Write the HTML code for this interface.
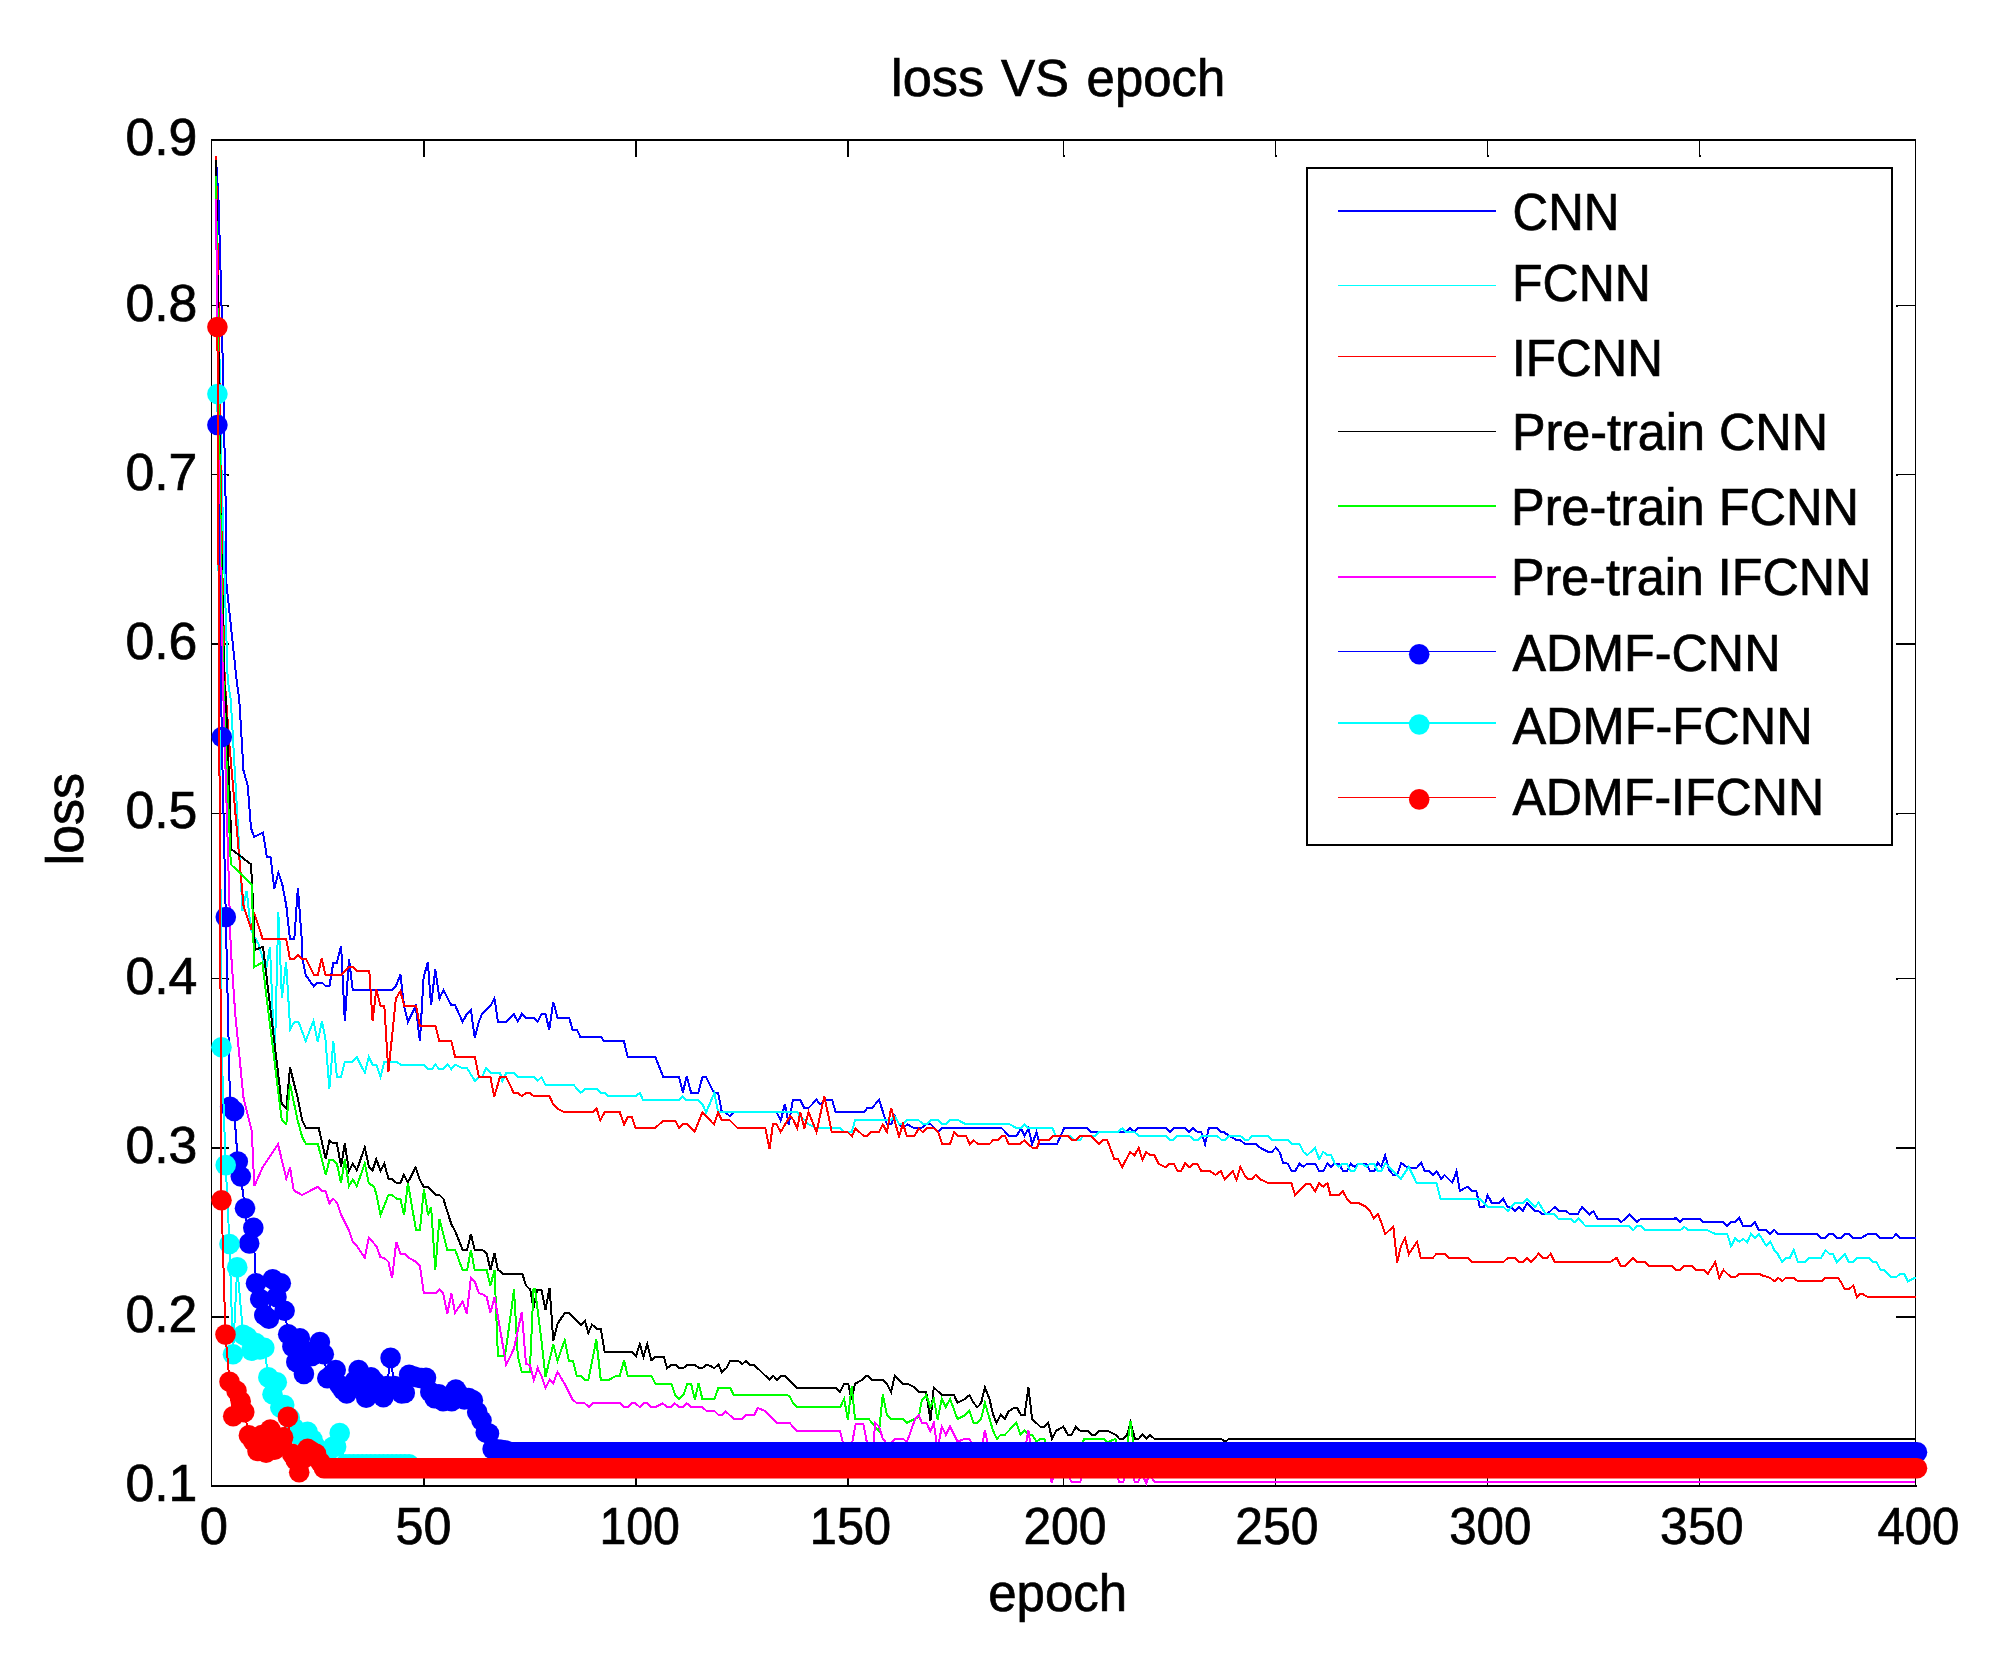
<!DOCTYPE html><html><head><meta charset="utf-8"><title>loss VS epoch</title><style>html,body{margin:0;padding:0;background:#fff}body{width:1999px;height:1676px;overflow:hidden}</style></head><body><svg width="1999" height="1676" viewBox="0 0 1999 1676" style="display:block">
<rect width="1999" height="1676" fill="#fff"/>
<g shape-rendering="crispEdges" fill="#000">
<rect x="211" y="139" width="1705" height="2"/>
<rect x="211" y="1485" width="1706" height="2"/>
<rect x="211" y="139" width="1" height="1348"/>
<rect x="1915" y="139" width="1" height="1348"/>
<rect x="423" y="141" width="2" height="16"/>
<rect x="423" y="1469" width="2" height="16"/>
<rect x="635" y="141" width="2" height="16"/>
<rect x="635" y="1469" width="2" height="16"/>
<rect x="847" y="141" width="2" height="16"/>
<rect x="847" y="1469" width="2" height="16"/>
<rect x="1063" y="141" width="1" height="16"/>
<rect x="1063" y="1469" width="1" height="16"/>
<rect x="1063" y="155" width="2" height="2"/>
<rect x="1063" y="1469" width="2" height="2"/>
<rect x="1275" y="141" width="1" height="16"/>
<rect x="1275" y="1469" width="1" height="16"/>
<rect x="1275" y="155" width="2" height="2"/>
<rect x="1275" y="1469" width="2" height="2"/>
<rect x="1487" y="141" width="1" height="16"/>
<rect x="1487" y="1469" width="1" height="16"/>
<rect x="1487" y="155" width="2" height="2"/>
<rect x="1487" y="1469" width="2" height="2"/>
<rect x="1699" y="141" width="1" height="16"/>
<rect x="1699" y="1469" width="1" height="16"/>
<rect x="1699" y="155" width="2" height="2"/>
<rect x="1699" y="1469" width="2" height="2"/>
<rect x="212" y="305" width="17" height="1"/>
<rect x="1896" y="305" width="19" height="1"/>
<rect x="227" y="305" width="2" height="2"/>
<rect x="1896" y="305" width="2" height="2"/>
<rect x="212" y="474" width="17" height="1"/>
<rect x="1896" y="474" width="19" height="1"/>
<rect x="227" y="474" width="2" height="2"/>
<rect x="1896" y="474" width="2" height="2"/>
<rect x="212" y="643" width="17" height="2"/>
<rect x="1896" y="643" width="19" height="2"/>
<rect x="212" y="813" width="17" height="1"/>
<rect x="1896" y="813" width="19" height="1"/>
<rect x="227" y="813" width="2" height="2"/>
<rect x="1896" y="813" width="2" height="2"/>
<rect x="212" y="978" width="17" height="1"/>
<rect x="1896" y="978" width="19" height="1"/>
<rect x="227" y="978" width="2" height="2"/>
<rect x="1896" y="978" width="2" height="2"/>
<rect x="212" y="1147" width="17" height="2"/>
<rect x="1896" y="1147" width="19" height="2"/>
<rect x="212" y="1316" width="17" height="2"/>
<rect x="1896" y="1316" width="19" height="2"/>
</g>
<g shape-rendering="crispEdges">
<polyline points="216.0,158.0 218.5,200.0 221.4,300.0 225.6,500.0 226.5,584.0 236.6,680.0 239.3,700.0 243.5,770.5 247.7,785.5 251.0,828.3 254.3,837.0 263.0,832.5 266.8,856.5 270.5,856.5 274.3,889.1 278.3,872.6 282.2,883.9 286.3,905.6 290.0,939.1 294.3,939.1 297.9,887.6 301.8,940.0 302.1,956.5 305.8,975.3 313.6,986.2 317.8,982.5 321.9,982.5 325.8,986.2 329.4,986.2 333.3,962.8 336.9,962.8 341.1,946.0 344.8,1021.0 349.0,959.1 352.8,990.3 392.1,990.3 395.9,986.2 400.4,974.5 404.1,1006.0 407.9,1021.8 415.7,1006.0 419.9,1041.3 423.6,977.5 427.8,962.2 431.1,1005.3 435.3,969.3 439.4,998.5 443.4,990.3 451.4,1005.3 455.1,1005.3 462.6,1021.8 467.1,1013.5 470.9,1009.8 474.7,1037.6 478.9,1021.8 482.2,1013.5 490.4,1006.0 494.5,998.5 497.9,1021.8 498.3,1021.6 506.2,1021.6 513.7,1014.0 517.8,1021.6 521.8,1014.0 526.0,1017.8 534.3,1017.8 537.7,1021.6 541.5,1014.0 545.5,1014.0 549.3,1029.8 553.3,1002.0 557.5,1017.8 569.2,1017.8 572.5,1029.8 577.0,1029.8 580.5,1037.3 601.1,1037.3 604.5,1041.4 624.0,1041.4 627.8,1057.3 655.5,1057.3 663.3,1077.1 679.1,1077.1 682.9,1092.8 686.6,1076.3 691.1,1092.8 698.3,1092.8 702.4,1077.1 706.1,1077.1 713.9,1092.8 718.1,1092.8 721.9,1112.4 725.6,1112.4 729.8,1116.1 733.9,1112.4 776.7,1112.4 780.7,1120.6 784.9,1104.1 788.7,1124.6 792.8,1100.3 800.3,1100.3 804.3,1108.1 808.5,1108.1 816.5,1099.8 820.2,1104.3 824.3,1100.3 832.2,1100.3 835.8,1112.3 864.0,1112.3 867.0,1108.4 871.6,1108.4 879.1,1099.8 886.9,1124.3 891.1,1124.3 894.8,1115.6 899.3,1124.3 903.1,1128.3 907.3,1124.3 912.1,1127.3 915.1,1128.3 921.1,1128.3 926.3,1124.3 930.8,1124.3 934.6,1128.3 938.3,1132.1 942.1,1128.3 1001.8,1128.3 1009.6,1136.3 1016.4,1136.3 1020.9,1128.3 1024.6,1135.8 1028.4,1128.3 1032.1,1144.1 1036.6,1132.1 1039.6,1144.1 1056.9,1144.1 1064.1,1128.3 1080.0,1128.3 1087.3,1128.3 1091.0,1132.1 1126.3,1132.1 1130.0,1128.3 1133.8,1132.1 1137.5,1128.3 1166.1,1128.3 1169.8,1132.1 1173.6,1128.3 1185.6,1128.3 1189.3,1132.1 1193.1,1128.3 1197.6,1132.1 1201.3,1132.1 1205.1,1144.1 1208.8,1128.3 1217.1,1128.3 1220.8,1132.1 1223.8,1132.1 1229.1,1135.8 1236.6,1140.0 1240.3,1140.0 1244.8,1144.1 1256.1,1144.1 1260.3,1147.8 1268.1,1151.9 1271.9,1151.9 1275.6,1147.8 1279.8,1152.3 1283.1,1162.8 1287.6,1163.6 1291.8,1171.1 1295.1,1171.1 1299.6,1163.6 1303.4,1166.9 1307.1,1163.6 1315.4,1163.6 1319.1,1171.1 1323.3,1171.1 1327.4,1163.6 1330.8,1166.9 1334.9,1163.6 1338.6,1163.6 1343.2,1171.1 1346.9,1171.1 1350.7,1163.6 1354.4,1166.9 1358.2,1163.6 1366.4,1163.6 1370.0,1171.1 1374.3,1171.0 1377.7,1163.0 1381.3,1166.8 1385.2,1155.5 1389.3,1170.5 1393.3,1175.0 1397.2,1175.0 1401.3,1163.0 1407.3,1167.5 1417.0,1167.5 1421.2,1163.0 1424.8,1171.0 1429.0,1171.0 1432.8,1175.0 1436.5,1171.0 1441.0,1178.8 1444.5,1175.0 1452.3,1182.8 1456.5,1171.3 1459.8,1190.8 1467.8,1186.7 1471.8,1190.8 1476.3,1190.8 1479.8,1207.3 1483.8,1207.3 1487.6,1195.3 1491.8,1202.8 1499.6,1202.8 1503.3,1199.1 1507.8,1207.3 1511.6,1207.3 1515.0,1211.1 1519.1,1207.3 1522.8,1211.1 1527.0,1202.8 1534.8,1211.1 1538.6,1211.1 1542.4,1214.4 1546.9,1214.4 1554.8,1206.9 1558.9,1211.1 1566.4,1211.1 1570.1,1214.4 1577.6,1214.4 1582.1,1206.9 1589.6,1214.4 1593.4,1211.1 1597.6,1218.6 1617.4,1218.6 1621.1,1222.3 1629.4,1214.8 1636.9,1222.3 1641.0,1218.6 1660.0,1218.6 1676.3,1218.5 1680.0,1221.9 1683.8,1218.5 1699.5,1218.5 1703.7,1222.3 1723.5,1222.3 1727.3,1226.1 1731.0,1222.3 1735.2,1222.3 1739.3,1217.8 1743.1,1226.1 1750.9,1226.1 1754.8,1221.9 1758.8,1230.3 1766.3,1230.3 1770.1,1234.0 1774.3,1229.8 1778.3,1234.0 1817.3,1234.0 1821.1,1238.1 1824.8,1238.1 1828.9,1234.0 1832.8,1234.0 1836.9,1238.1 1840.9,1238.1 1844.8,1234.0 1848.9,1234.0 1852.9,1238.1 1860.9,1238.1 1867.6,1234.3 1876.6,1234.3 1880.4,1238.1 1892.4,1238.1 1896.1,1234.3 1900.3,1238.1 1915.6,1238.1" fill="none" stroke="#0000ff" stroke-width="2" stroke-linejoin="miter"/>
<polyline points="216.0,160.0 219.0,330.0 221.7,480.0 227.7,680.0 230.8,700.0 239.3,850.1 242.5,911.0 246.7,890.7 250.9,930.1 258.6,944.4 262.2,956.3 265.8,970.7 270.0,946.8 274.7,1062.5 278.3,911.6 281.9,998.1 286.1,962.3 290.2,1029.1 294.4,1022.0 298.6,1022.0 305.7,1041.0 313.5,1020.8 317.7,1041.6 321.9,1020.8 325.4,1038.7 329.4,1088.6 333.3,1041.3 336.9,1076.9 341.1,1076.9 344.8,1061.6 352.8,1061.6 356.8,1057.1 364.8,1072.8 368.8,1057.1 372.6,1064.6 376.3,1064.6 380.5,1076.9 384.3,1061.6 396.6,1061.6 400.4,1064.6 423.9,1064.6 428.1,1069.1 431.9,1069.1 435.3,1064.6 439.4,1069.1 443.4,1069.1 447.6,1064.6 451.4,1069.1 455.1,1064.6 462.6,1068.3 467.1,1068.3 475.0,1081.1 478.9,1076.9 482.2,1076.9 485.9,1068.3 490.4,1072.8 500.0,1072.8 502.3,1080.8 506.2,1073.3 514.0,1073.3 518.1,1077.1 534.3,1077.1 537.7,1080.8 541.5,1077.1 545.5,1084.6 573.3,1084.6 580.8,1092.8 584.9,1088.8 596.6,1088.8 601.1,1092.8 604.8,1092.8 608.6,1096.3 635.6,1096.3 639.8,1092.8 643.1,1100.3 678.4,1100.3 682.6,1096.3 686.6,1100.3 698.6,1100.3 702.4,1104.1 706.1,1112.4 714.4,1092.8 718.1,1112.4 790.0,1112.4 797.3,1112.3 800.3,1116.3 804.8,1120.1 808.5,1124.3 816.8,1128.3 840.0,1128.3 843.8,1132.1 851.7,1132.1 855.0,1120.4 891.1,1120.4 894.8,1116.3 899.3,1124.3 903.1,1124.3 906.8,1120.4 918.8,1120.4 923.3,1124.3 926.3,1124.3 930.8,1120.4 938.3,1120.4 942.8,1124.3 945.8,1124.3 949.6,1120.4 958.6,1120.4 966.1,1124.3 1009.6,1124.3 1017.1,1128.3 1020.9,1128.3 1024.6,1124.3 1028.4,1128.3 1052.4,1128.3 1056.2,1136.3 1070.4,1136.3 1074.2,1140.3 1080.0,1140.3 1082.8,1135.8 1094.8,1135.8 1099.3,1132.1 1118.0,1132.1 1122.2,1128.3 1126.3,1132.1 1134.5,1132.1 1138.6,1135.8 1166.1,1135.8 1169.8,1140.0 1173.3,1140.0 1177.3,1135.8 1189.3,1135.8 1193.8,1140.0 1197.6,1140.0 1202.1,1135.8 1217.1,1135.8 1221.6,1140.0 1224.6,1140.0 1229.1,1135.8 1240.3,1135.8 1244.8,1140.0 1248.6,1140.0 1252.4,1135.8 1268.1,1135.8 1272.3,1140.0 1287.6,1140.0 1291.8,1144.1 1299.6,1144.1 1303.4,1151.9 1307.1,1155.3 1315.1,1147.8 1319.1,1159.1 1323.3,1151.9 1327.4,1155.3 1331.1,1155.3 1334.9,1163.6 1338.6,1166.9 1342.4,1163.6 1346.9,1163.6 1350.7,1171.1 1354.4,1171.1 1358.2,1163.6 1361.9,1163.6 1366.4,1166.9 1370.0,1163.6 1374.3,1163.8 1377.7,1171.0 1381.3,1171.0 1385.5,1163.0 1400.8,1178.8 1408.8,1166.8 1416.7,1183.3 1436.5,1183.3 1440.7,1199.1 1479.8,1199.1 1487.6,1206.9 1503.3,1206.9 1507.8,1211.1 1515.0,1202.8 1522.8,1202.8 1527.0,1199.1 1534.8,1206.9 1538.6,1202.8 1546.1,1214.4 1554.8,1214.4 1558.1,1218.6 1570.9,1218.6 1574.3,1222.3 1578.4,1218.6 1585.9,1226.4 1629.4,1226.4 1633.2,1230.3 1636.9,1226.4 1641.4,1226.4 1645.2,1230.3 1660.0,1230.3 1680.0,1230.3 1684.2,1226.8 1688.3,1230.3 1707.8,1230.3 1715.3,1234.0 1727.3,1234.0 1731.0,1246.3 1735.2,1238.1 1739.3,1241.8 1743.1,1238.8 1747.3,1242.3 1750.9,1234.0 1754.8,1238.1 1758.8,1234.0 1766.3,1245.6 1770.5,1241.8 1774.3,1250.1 1777.6,1253.8 1782.1,1262.1 1785.8,1257.9 1789.9,1257.9 1793.8,1250.1 1797.8,1262.1 1805.3,1262.1 1809.4,1257.9 1821.1,1257.9 1825.6,1250.1 1829.3,1253.8 1832.8,1253.8 1836.9,1262.1 1844.8,1253.8 1848.9,1262.1 1852.9,1262.1 1856.8,1257.9 1869.1,1257.9 1872.9,1262.1 1876.6,1262.1 1880.4,1269.9 1884.1,1269.9 1891.6,1277.4 1896.1,1277.4 1899.9,1273.8 1904.1,1273.8 1907.8,1281.3 1915.6,1277.4" fill="none" stroke="#00ffff" stroke-width="2" stroke-linejoin="miter"/>
<polyline points="216.0,156.0 218.5,300.0 221.1,512.0 224.7,680.0 229.3,743.5 243.5,905.6 251.0,928.1 254.8,914.6 262.7,939.1 286.3,939.1 286.3,940.0 290.0,959.1 293.8,959.1 297.9,955.0 302.1,959.1 306.1,959.1 314.1,975.3 317.8,975.3 321.6,958.3 325.5,975.0 341.1,975.0 349.0,967.0 352.8,967.0 356.8,971.1 369.3,971.1 372.6,1021.0 376.3,989.5 380.5,1005.6 384.3,1005.6 388.4,1072.1 395.9,998.5 400.4,991.0 404.1,1005.6 416.1,1005.6 419.9,1026.0 435.6,1026.0 439.4,1041.3 451.4,1041.3 455.1,1057.1 475.0,1057.1 478.9,1076.9 490.4,1076.9 494.2,1096.8 500.0,1076.9 506.2,1077.1 513.7,1092.8 517.8,1092.8 521.8,1096.3 526.0,1092.8 529.8,1092.8 533.8,1096.3 549.6,1096.3 553.0,1104.1 557.5,1108.6 561.3,1110.8 565.0,1112.4 592.8,1112.4 596.6,1108.6 600.3,1120.3 604.5,1112.4 619.8,1112.4 624.0,1124.4 627.8,1116.9 631.8,1116.9 635.6,1128.1 655.1,1128.1 663.3,1120.6 675.4,1120.6 679.1,1128.1 682.9,1124.4 687.4,1124.4 694.6,1131.9 702.4,1112.4 713.9,1124.4 718.1,1112.4 721.9,1120.3 729.8,1120.3 737.6,1128.1 765.4,1128.1 769.5,1149.1 772.9,1124.4 776.7,1124.4 780.7,1131.9 790.0,1116.1 793.5,1120.1 797.3,1128.3 800.3,1111.8 804.3,1128.3 808.5,1111.8 816.5,1132.1 824.3,1096.1 831.8,1132.1 847.5,1132.1 852.0,1136.3 855.5,1128.3 864.0,1136.3 867.0,1136.3 870.8,1132.1 879.1,1132.1 882.8,1124.3 886.9,1132.1 891.1,1107.8 899.0,1136.3 903.1,1123.8 906.8,1136.3 914.3,1136.3 918.8,1128.3 922.6,1132.1 926.3,1128.3 933.8,1128.3 938.3,1132.1 942.1,1144.1 950.0,1144.1 954.1,1132.1 957.8,1136.3 966.1,1136.3 969.9,1144.1 973.6,1140.3 977.8,1144.1 989.4,1144.1 993.1,1140.3 997.6,1140.3 1001.8,1136.3 1005.1,1136.3 1008.9,1144.1 1020.1,1144.1 1024.3,1140.3 1032.9,1148.3 1036.9,1148.3 1039.6,1140.3 1048.6,1140.3 1052.4,1136.3 1068.2,1136.3 1071.9,1140.3 1075.7,1140.3 1080.0,1135.8 1091.0,1135.8 1098.8,1144.1 1103.0,1140.0 1107.2,1140.0 1114.3,1159.1 1118.0,1159.1 1122.2,1167.3 1130.0,1151.9 1134.5,1155.3 1138.6,1147.8 1142.5,1159.8 1146.2,1151.9 1150.3,1155.3 1154.5,1155.3 1158.5,1163.6 1165.3,1167.3 1169.8,1163.6 1173.6,1163.6 1177.8,1171.1 1181.1,1171.1 1185.3,1162.8 1189.3,1167.3 1193.8,1163.6 1197.3,1163.6 1201.3,1171.1 1209.6,1171.1 1215.6,1174.8 1220.8,1171.1 1224.6,1179.3 1232.8,1171.1 1236.6,1180.1 1240.3,1166.9 1244.8,1175.6 1247.8,1179.3 1251.6,1179.3 1255.7,1174.8 1260.3,1179.3 1268.1,1183.1 1291.4,1183.1 1295.1,1195.1 1306.4,1183.8 1310.1,1183.8 1315.1,1191.3 1319.1,1183.1 1323.3,1186.8 1327.4,1183.1 1330.4,1195.1 1338.6,1195.1 1342.9,1191.3 1346.9,1198.8 1350.7,1202.9 1358.2,1202.9 1364.9,1206.3 1370.0,1210.8 1373.8,1218.6 1378.0,1214.1 1381.3,1222.3 1385.2,1234.3 1393.3,1226.4 1397.2,1262.8 1400.8,1246.3 1405.0,1238.1 1408.8,1254.3 1417.0,1241.8 1420.8,1257.9 1432.8,1257.9 1436.5,1253.8 1444.8,1253.8 1448.8,1257.9 1468.1,1257.9 1471.8,1262.1 1503.3,1262.1 1507.8,1257.9 1515.0,1257.9 1519.1,1262.1 1522.8,1262.1 1527.0,1257.9 1531.1,1262.1 1538.6,1253.8 1542.8,1257.9 1546.9,1257.9 1550.6,1253.8 1554.8,1262.1 1609.9,1262.1 1616.6,1257.9 1620.8,1265.8 1624.9,1265.8 1632.9,1257.9 1636.9,1262.1 1645.2,1262.1 1648.9,1265.8 1660.0,1265.8 1672.2,1265.8 1676.3,1269.9 1680.0,1269.9 1684.2,1265.8 1692.0,1265.8 1695.8,1269.9 1704.0,1269.9 1707.8,1273.8 1715.3,1262.1 1719.3,1277.8 1723.5,1269.9 1727.3,1273.8 1731.0,1277.1 1735.2,1277.1 1739.3,1273.8 1759.3,1273.8 1762.6,1275.6 1770.1,1277.8 1774.3,1281.3 1778.3,1277.8 1782.1,1281.3 1785.8,1277.8 1794.1,1277.8 1797.8,1281.3 1821.8,1281.3 1825.6,1277.8 1837.6,1277.8 1840.9,1281.6 1844.8,1289.4 1848.9,1289.4 1853.4,1285.3 1856.8,1297.3 1860.1,1293.6 1863.1,1294.3 1868.4,1297.3 1915.6,1297.3" fill="none" stroke="#ff0000" stroke-width="2" stroke-linejoin="miter"/>
<polyline points="216.0,160.0 218.5,350.0 220.5,512.0 222.9,611.0 224.1,680.0 225.8,700.0 229.6,793.1 231.5,849.3 251.0,864.3 252.2,886.1 254.8,946.1 254.8,949.8 263.0,946.8 281.8,1104.3 286.3,1108.1 290.0,1067.6 297.6,1097.6 302.1,1120.1 305.8,1127.6 318.6,1127.6 325.8,1159.1 329.4,1140.4 333.3,1143.4 336.9,1143.4 341.1,1166.6 344.8,1143.4 349.0,1171.1 352.8,1163.6 356.8,1170.4 364.8,1147.1 368.8,1166.6 372.6,1170.4 376.3,1159.1 380.5,1171.1 384.3,1163.6 388.4,1178.6 392.1,1179.4 396.6,1183.1 400.4,1183.1 403.8,1174.9 407.9,1182.4 415.7,1167.4 419.9,1180.1 423.9,1186.9 428.1,1186.9 435.6,1195.0 439.4,1195.0 443.4,1198.8 447.3,1211.5 451.4,1224.3 455.1,1231.0 462.6,1249.8 467.1,1249.8 470.9,1234.0 474.7,1249.8 482.2,1249.8 486.7,1253.5 490.4,1270.0 494.5,1253.5 497.9,1270.0 498.3,1269.8 502.8,1273.8 522.3,1273.8 526.0,1285.5 530.2,1289.6 533.5,1308.1 537.3,1289.6 541.5,1289.6 545.5,1309.6 549.6,1287.8 553.3,1341.1 557.5,1323.8 565.0,1312.6 568.8,1312.6 580.8,1324.9 584.9,1320.8 588.3,1332.8 592.1,1324.6 596.9,1328.8 600.8,1328.8 604.8,1352.3 632.3,1352.3 636.0,1356.1 639.8,1344.1 643.4,1356.8 647.3,1344.1 651.3,1360.3 655.1,1356.8 663.8,1356.8 667.1,1368.1 671.6,1364.8 675.4,1364.8 679.4,1368.1 683.3,1368.1 687.4,1364.8 694.9,1364.8 698.9,1368.1 702.4,1368.1 706.4,1364.8 709.9,1365.8 714.4,1368.1 718.4,1364.3 721.9,1372.3 726.4,1368.1 730.1,1360.9 738.4,1360.9 742.1,1364.3 745.9,1360.9 750.1,1364.8 754.1,1364.8 769.5,1379.8 773.4,1375.9 777.0,1379.8 781.2,1375.9 784.9,1375.9 790.0,1380.8 796.8,1387.9 836.3,1387.9 840.0,1392.1 844.2,1383.8 848.3,1383.8 851.7,1400.3 855.0,1383.8 861.8,1380.0 867.0,1375.5 871.9,1379.7 883.3,1379.7 887.3,1384.6 891.1,1392.1 894.8,1375.5 903.1,1383.8 907.6,1383.8 913.6,1386.8 918.8,1392.1 926.3,1392.1 930.4,1420.6 933.8,1387.6 942.1,1395.1 954.1,1395.1 957.5,1402.9 965.4,1398.8 969.4,1395.1 973.6,1402.9 977.4,1407.1 981.1,1403.3 984.9,1387.3 989.4,1398.8 993.1,1414.6 996.4,1422.8 1000.6,1414.9 1004.8,1418.8 1008.4,1411.6 1014.1,1407.8 1017.1,1407.8 1020.9,1414.9 1024.6,1414.9 1028.4,1387.3 1032.1,1418.8 1040.4,1426.9 1044.1,1426.9 1048.3,1422.8 1051.9,1438.6 1056.2,1430.8 1063.4,1426.6 1067.8,1434.7 1071.7,1434.7 1075.8,1426.8 1080.0,1430.5 1087.8,1430.5 1091.5,1434.7 1095.3,1434.7 1099.3,1430.5 1107.3,1430.5 1111.8,1432.8 1115.5,1434.7 1119.3,1438.8 1123.0,1438.8 1127.1,1434.7 1130.5,1423.0 1135.0,1438.8 1138.8,1438.8 1142.5,1434.7 1146.3,1438.8 1150.0,1434.7 1154.3,1438.8 1221.3,1438.8 1225.1,1442.2 1228.8,1438.8 1360.0,1438.8 1915.0,1438.8" fill="none" stroke="#000000" stroke-width="2" stroke-linejoin="miter"/>
<polyline points="216.0,176.0 218.0,350.0 219.9,480.0 223.5,680.0 224.0,700.0 230.8,864.3 251.8,884.6 253.7,949.1 254.3,967.0 262.3,962.5 266.0,992.5 281.8,1120.1 286.3,1123.9 290.0,1084.1 297.6,1120.1 302.1,1136.6 305.8,1143.8 317.8,1143.8 325.8,1174.9 329.4,1159.9 333.3,1159.9 336.9,1163.6 341.1,1183.1 344.8,1159.1 349.0,1186.1 352.8,1179.4 356.8,1186.1 364.8,1163.6 368.8,1183.1 374.1,1186.8 376.3,1194.3 380.5,1215.3 388.4,1195.0 392.1,1195.0 396.6,1198.8 400.4,1198.8 404.1,1215.3 407.9,1183.0 416.1,1230.3 419.9,1230.3 423.9,1189.0 428.1,1215.3 431.1,1207.0 435.3,1270.0 439.4,1219.0 447.3,1249.8 455.1,1249.8 462.6,1270.0 467.1,1270.0 470.9,1249.8 474.7,1270.0 486.7,1270.0 490.4,1285.8 494.5,1270.0 497.9,1356.3 505.0,1356.1 512.7,1300.0 514.0,1289.3 517.8,1356.4 521.8,1372.3 529.8,1372.3 533.5,1289.3 535.0,1289.3 541.5,1341.1 545.5,1377.1 553.3,1344.1 557.5,1360.6 564.7,1340.3 568.8,1360.6 573.0,1360.6 576.7,1375.9 580.8,1375.9 584.9,1380.1 588.3,1380.1 596.3,1339.6 600.8,1380.1 608.6,1380.1 616.1,1375.9 619.8,1375.9 624.0,1360.3 627.8,1375.9 651.3,1375.9 655.4,1383.9 671.3,1383.9 675.4,1395.1 679.1,1399.3 683.3,1395.1 687.4,1383.9 691.1,1383.9 694.9,1399.3 698.6,1383.1 702.4,1399.3 714.4,1399.3 718.4,1387.9 730.4,1387.9 733.9,1395.4 787.9,1395.4 789.3,1395.8 792.8,1402.6 796.8,1407.4 840.0,1407.4 844.2,1398.8 847.8,1419.8 851.7,1386.1 855.0,1418.8 868.5,1418.8 879.1,1431.1 882.8,1394.3 886.9,1414.9 890.8,1419.1 903.1,1419.1 906.8,1422.8 918.8,1416.8 921.8,1400.3 926.3,1395.1 930.4,1407.1 933.8,1398.8 937.6,1419.8 941.8,1398.8 945.8,1407.1 950.0,1398.8 957.5,1419.1 965.4,1414.9 969.4,1410.8 973.6,1422.8 977.4,1422.8 981.1,1419.1 984.9,1402.9 993.1,1430.8 996.9,1438.9 1000.6,1434.8 1004.8,1434.8 1016.4,1422.8 1020.4,1434.8 1024.6,1430.8 1028.4,1434.8 1032.1,1434.8 1036.6,1441.6 1040.4,1438.6 1044.1,1438.6 1046.4,1444.6 1060.0,1444.0 1082.5,1444.0 1084.0,1438.8 1103.5,1438.8 1107.3,1442.2 1111.8,1440.3 1115.5,1438.8 1116.3,1444.0 1127.5,1444.0 1130.5,1421.5 1133.5,1444.0 1150.0,1450.0 1200.0,1455.0 1915.0,1455.0" fill="none" stroke="#00ff00" stroke-width="2" stroke-linejoin="miter"/>
<polyline points="216.0,199.0 217.5,350.0 218.7,480.0 222.9,680.0 230.8,949.1 235.3,1015.0 243.5,1097.6 251.8,1131.4 254.3,1186.1 263.0,1166.6 278.0,1144.1 286.3,1178.6 290.0,1167.4 293.8,1190.5 302.1,1195.0 317.8,1186.8 321.6,1190.5 325.3,1190.5 329.4,1203.3 333.3,1198.8 336.9,1202.5 341.1,1214.5 349.0,1230.3 352.8,1241.5 356.8,1246.0 364.8,1258.0 368.8,1237.8 376.3,1246.0 380.5,1257.3 384.3,1258.0 388.4,1261.8 392.1,1278.3 396.3,1241.8 400.4,1253.5 404.1,1253.5 407.9,1257.3 416.1,1261.8 419.9,1265.5 423.9,1293.3 435.6,1293.3 439.4,1289.6 443.1,1293.3 447.3,1313.6 451.4,1293.3 455.1,1312.8 462.6,1301.6 466.8,1313.6 470.9,1277.6 474.7,1281.3 478.9,1293.3 482.2,1294.1 486.7,1297.1 490.4,1312.8 494.5,1297.1 494.5,1296.8 506.2,1364.8 514.0,1348.6 521.8,1311.8 526.0,1364.3 529.8,1364.8 533.8,1380.1 537.7,1368.1 541.5,1375.9 545.5,1387.6 549.6,1379.8 553.3,1383.1 557.5,1371.8 564.7,1383.9 572.5,1399.3 577.0,1403.4 584.9,1403.4 588.8,1407.1 592.4,1403.4 620.3,1403.4 624.3,1407.1 627.8,1407.1 631.8,1403.4 635.6,1403.4 639.8,1407.1 643.4,1403.4 647.3,1403.4 651.3,1407.1 655.1,1407.1 662.6,1403.4 667.1,1407.1 670.8,1407.1 674.6,1403.4 679.4,1407.1 683.3,1407.1 686.9,1403.4 691.1,1407.1 702.4,1407.1 706.4,1410.9 714.4,1410.9 718.4,1414.9 721.9,1414.9 725.6,1411.3 733.9,1419.1 742.1,1419.1 745.9,1415.4 754.1,1415.4 757.9,1407.9 764.7,1410.9 777.0,1423.3 790.0,1423.3 796.8,1431.1 840.0,1431.1 846.0,1455.1 849.8,1455.1 855.8,1423.6 863.3,1423.6 869.3,1455.1 872.3,1455.1 875.3,1422.8 879.1,1426.6 882.8,1438.6 888.8,1446.1 894.8,1438.6 903.1,1438.6 906.8,1442.3 915.1,1419.1 918.8,1414.9 921.8,1422.8 926.3,1422.8 930.4,1431.1 933.8,1422.8 937.6,1449.1 941.8,1426.6 945.8,1434.8 950.0,1426.6 957.5,1441.6 965.4,1438.6 969.4,1438.6 975.1,1452.1 981.1,1452.1 984.9,1430.3 989.4,1452.1 1024.6,1452.1 1028.4,1430.3 1032.1,1455.1 1048.6,1470.1 1051.9,1482.9 1054.7,1470.1 1065.2,1470.1 1071.9,1482.4 1080.0,1482.4 1082.5,1474.1 1116.3,1474.1 1119.3,1482.3 1123.0,1482.3 1126.0,1474.1 1132.0,1474.1 1135.0,1482.3 1138.0,1482.3 1141.8,1474.1 1146.3,1483.1 1149.3,1474.1 1154.6,1482.3 1360.0,1482.3 1915.0,1482.3" fill="none" stroke="#ff00ff" stroke-width="2" stroke-linejoin="miter"/>
</g>
<g shape-rendering="crispEdges"><polyline points="217.4,425.0 221.8,737.0 225.8,917.0 230.1,1106.7 234.2,1110.9 237.8,1161.6 240.8,1176.5 245.0,1208.2 249.2,1243.4 253.3,1227.8 256.0,1283.2 260.2,1299.0 264.3,1315.1 268.9,1318.8 272.7,1279.3 276.5,1297.0 280.8,1283.2 284.6,1310.8 288.2,1334.2 292.4,1346.6 296.3,1361.9 299.9,1338.2 303.9,1373.9 308.0,1352.0 312.0,1356.0 316.0,1350.0 319.9,1342.1 323.8,1354.3 327.3,1378.2 331.5,1375.0 335.7,1370.0 339.5,1385.0 343.0,1390.0 346.7,1393.5 350.7,1388.0 354.7,1381.0 358.6,1370.0 362.4,1388.0 366.2,1397.7 371.0,1377.2 375.0,1382.0 379.3,1390.0 383.4,1397.2 387.0,1386.0 390.6,1357.9 394.5,1386.0 398.0,1388.0 401.6,1393.4 404.8,1392.9 409.1,1374.7 413.2,1376.4 417.5,1377.5 421.8,1378.1 426.0,1377.7 430.3,1391.9 434.6,1398.3 438.9,1394.2 443.1,1401.3 447.4,1399.0 451.7,1401.3 455.8,1389.6 460.1,1395.4 464.4,1399.5 468.7,1398.0 472.9,1400.2 477.2,1412.1 481.5,1420.5 485.7,1432.4 489.0,1433.6 492.6,1449.1 496.9,1449.4 501.2,1449.7 505.5,1450.6 511.3,1452.3 1917.0,1452.3" fill="none" stroke="#0000ff" stroke-width="2" stroke-linejoin="miter"/></g><g fill="#0000ff"><circle cx="217.4" cy="425.0" r="10.3"/><circle cx="221.8" cy="737.0" r="10.3"/><circle cx="225.8" cy="917.0" r="10.3"/><circle cx="230.1" cy="1106.7" r="10.3"/><circle cx="234.2" cy="1110.9" r="10.3"/><circle cx="237.8" cy="1161.6" r="10.3"/><circle cx="240.8" cy="1176.5" r="10.3"/><circle cx="245.0" cy="1208.2" r="10.3"/><circle cx="249.2" cy="1243.4" r="10.3"/><circle cx="253.3" cy="1227.8" r="10.3"/><circle cx="256.0" cy="1283.2" r="10.3"/><circle cx="260.2" cy="1299.0" r="10.3"/><circle cx="264.3" cy="1315.1" r="10.3"/><circle cx="268.9" cy="1318.8" r="10.3"/><circle cx="272.7" cy="1279.3" r="10.3"/><circle cx="276.5" cy="1297.0" r="10.3"/><circle cx="280.8" cy="1283.2" r="10.3"/><circle cx="284.6" cy="1310.8" r="10.3"/><circle cx="288.2" cy="1334.2" r="10.3"/><circle cx="292.4" cy="1346.6" r="10.3"/><circle cx="296.3" cy="1361.9" r="10.3"/><circle cx="299.9" cy="1338.2" r="10.3"/><circle cx="303.9" cy="1373.9" r="10.3"/><circle cx="308.0" cy="1352.0" r="10.3"/><circle cx="312.0" cy="1356.0" r="10.3"/><circle cx="316.0" cy="1350.0" r="10.3"/><circle cx="319.9" cy="1342.1" r="10.3"/><circle cx="323.8" cy="1354.3" r="10.3"/><circle cx="327.3" cy="1378.2" r="10.3"/><circle cx="331.5" cy="1375.0" r="10.3"/><circle cx="335.7" cy="1370.0" r="10.3"/><circle cx="339.5" cy="1385.0" r="10.3"/><circle cx="343.0" cy="1390.0" r="10.3"/><circle cx="346.7" cy="1393.5" r="10.3"/><circle cx="350.7" cy="1388.0" r="10.3"/><circle cx="354.7" cy="1381.0" r="10.3"/><circle cx="358.6" cy="1370.0" r="10.3"/><circle cx="362.4" cy="1388.0" r="10.3"/><circle cx="366.2" cy="1397.7" r="10.3"/><circle cx="371.0" cy="1377.2" r="10.3"/><circle cx="375.0" cy="1382.0" r="10.3"/><circle cx="379.3" cy="1390.0" r="10.3"/><circle cx="383.4" cy="1397.2" r="10.3"/><circle cx="387.0" cy="1386.0" r="10.3"/><circle cx="390.6" cy="1357.9" r="10.3"/><circle cx="394.5" cy="1386.0" r="10.3"/><circle cx="398.0" cy="1388.0" r="10.3"/><circle cx="401.6" cy="1393.4" r="10.3"/><circle cx="404.8" cy="1392.9" r="10.3"/><circle cx="409.1" cy="1374.7" r="10.3"/><circle cx="413.2" cy="1376.4" r="10.3"/><circle cx="417.5" cy="1377.5" r="10.3"/><circle cx="421.8" cy="1378.1" r="10.3"/><circle cx="426.0" cy="1377.7" r="10.3"/><circle cx="430.3" cy="1391.9" r="10.3"/><circle cx="434.6" cy="1398.3" r="10.3"/><circle cx="438.9" cy="1394.2" r="10.3"/><circle cx="443.1" cy="1401.3" r="10.3"/><circle cx="447.4" cy="1399.0" r="10.3"/><circle cx="451.7" cy="1401.3" r="10.3"/><circle cx="455.8" cy="1389.6" r="10.3"/><circle cx="460.1" cy="1395.4" r="10.3"/><circle cx="464.4" cy="1399.5" r="10.3"/><circle cx="468.7" cy="1398.0" r="10.3"/><circle cx="472.9" cy="1400.2" r="10.3"/><circle cx="477.2" cy="1412.1" r="10.3"/><circle cx="481.5" cy="1420.5" r="10.3"/><circle cx="485.7" cy="1432.4" r="10.3"/><circle cx="489.0" cy="1433.6" r="10.3"/><circle cx="492.6" cy="1449.1" r="10.3"/><circle cx="496.9" cy="1449.4" r="10.3"/><circle cx="501.2" cy="1449.7" r="10.3"/><circle cx="505.5" cy="1450.6" r="10.3"/></g><line x1="511.3" y1="1452.3" x2="1917.0" y2="1452.3" stroke="#0000ff" stroke-width="20.6" stroke-linecap="round"/>
<g shape-rendering="crispEdges"><polyline points="217.4,394.0 221.5,1047.3 225.7,1165.1 229.5,1244.0 233.0,1354.2 237.2,1267.2 243.2,1334.7 247.2,1337.0 251.5,1350.6 255.7,1343.1 260.0,1349.4 264.3,1347.7 268.3,1377.4 272.5,1394.2 276.8,1382.3 280.3,1407.4 284.2,1405.0 289.8,1418.0 294.1,1428.0 298.2,1434.8 302.5,1433.0 307.5,1431.8 312.4,1439.6 315.3,1446.0 319.6,1452.0 323.9,1455.0 328.1,1452.0 332.8,1446.7 336.1,1446.7 339.7,1433.1 345.2,1464.2 349.4,1464.2 353.7,1464.2 358.0,1464.2 362.2,1464.2 366.5,1464.2 370.7,1464.2 375.0,1464.2 379.3,1464.2 383.5,1464.2 387.8,1464.2 392.0,1464.2 396.3,1464.2 400.6,1464.2 404.8,1464.2 409.1,1464.2 413.3,1468.3 1917.0,1468.3" fill="none" stroke="#00ffff" stroke-width="2" stroke-linejoin="miter"/></g><g fill="#00ffff"><circle cx="217.4" cy="394.0" r="10.3"/><circle cx="221.5" cy="1047.3" r="10.3"/><circle cx="225.7" cy="1165.1" r="10.3"/><circle cx="229.5" cy="1244.0" r="10.3"/><circle cx="233.0" cy="1354.2" r="10.3"/><circle cx="237.2" cy="1267.2" r="10.3"/><circle cx="243.2" cy="1334.7" r="10.3"/><circle cx="247.2" cy="1337.0" r="10.3"/><circle cx="251.5" cy="1350.6" r="10.3"/><circle cx="255.7" cy="1343.1" r="10.3"/><circle cx="260.0" cy="1349.4" r="10.3"/><circle cx="264.3" cy="1347.7" r="10.3"/><circle cx="268.3" cy="1377.4" r="10.3"/><circle cx="272.5" cy="1394.2" r="10.3"/><circle cx="276.8" cy="1382.3" r="10.3"/><circle cx="280.3" cy="1407.4" r="10.3"/><circle cx="284.2" cy="1405.0" r="10.3"/><circle cx="289.8" cy="1418.0" r="10.3"/><circle cx="294.1" cy="1428.0" r="10.3"/><circle cx="298.2" cy="1434.8" r="10.3"/><circle cx="302.5" cy="1433.0" r="10.3"/><circle cx="307.5" cy="1431.8" r="10.3"/><circle cx="312.4" cy="1439.6" r="10.3"/><circle cx="315.3" cy="1446.0" r="10.3"/><circle cx="319.6" cy="1452.0" r="10.3"/><circle cx="323.9" cy="1455.0" r="10.3"/><circle cx="328.1" cy="1452.0" r="10.3"/><circle cx="332.8" cy="1446.7" r="10.3"/><circle cx="336.1" cy="1446.7" r="10.3"/><circle cx="339.7" cy="1433.1" r="10.3"/><circle cx="345.2" cy="1464.2" r="10.3"/><circle cx="349.4" cy="1464.2" r="10.3"/><circle cx="353.7" cy="1464.2" r="10.3"/><circle cx="358.0" cy="1464.2" r="10.3"/><circle cx="362.2" cy="1464.2" r="10.3"/><circle cx="366.5" cy="1464.2" r="10.3"/><circle cx="370.7" cy="1464.2" r="10.3"/><circle cx="375.0" cy="1464.2" r="10.3"/><circle cx="379.3" cy="1464.2" r="10.3"/><circle cx="383.5" cy="1464.2" r="10.3"/><circle cx="387.8" cy="1464.2" r="10.3"/><circle cx="392.0" cy="1464.2" r="10.3"/><circle cx="396.3" cy="1464.2" r="10.3"/><circle cx="400.6" cy="1464.2" r="10.3"/><circle cx="404.8" cy="1464.2" r="10.3"/><circle cx="409.1" cy="1464.2" r="10.3"/></g><line x1="413.3" y1="1468.3" x2="1917.0" y2="1468.3" stroke="#00ffff" stroke-width="16" stroke-linecap="round"/>
<g shape-rendering="crispEdges"><polyline points="217.4,327.0 221.5,1200.3 225.5,1334.6 229.5,1381.7 233.2,1416.3 236.5,1390.7 240.7,1401.4 244.3,1412.1 248.9,1435.4 253.2,1441.3 257.5,1450.9 261.8,1435.0 266.1,1452.6 270.3,1429.6 274.6,1449.6 278.8,1443.2 283.1,1437.2 287.9,1416.9 292.1,1453.9 295.6,1460.0 299.2,1472.3 303.4,1458.7 307.6,1448.7 311.8,1451.5 316.1,1453.9 320.4,1462.2 323.9,1468.3 1917.0,1468.3" fill="none" stroke="#ff0000" stroke-width="2" stroke-linejoin="miter"/></g><g fill="#ff0000"><circle cx="217.4" cy="327.0" r="10.3"/><circle cx="221.5" cy="1200.3" r="10.3"/><circle cx="225.5" cy="1334.6" r="10.3"/><circle cx="229.5" cy="1381.7" r="10.3"/><circle cx="233.2" cy="1416.3" r="10.3"/><circle cx="236.5" cy="1390.7" r="10.3"/><circle cx="240.7" cy="1401.4" r="10.3"/><circle cx="244.3" cy="1412.1" r="10.3"/><circle cx="248.9" cy="1435.4" r="10.3"/><circle cx="253.2" cy="1441.3" r="10.3"/><circle cx="257.5" cy="1450.9" r="10.3"/><circle cx="261.8" cy="1435.0" r="10.3"/><circle cx="266.1" cy="1452.6" r="10.3"/><circle cx="270.3" cy="1429.6" r="10.3"/><circle cx="274.6" cy="1449.6" r="10.3"/><circle cx="278.8" cy="1443.2" r="10.3"/><circle cx="283.1" cy="1437.2" r="10.3"/><circle cx="287.9" cy="1416.9" r="10.3"/><circle cx="292.1" cy="1453.9" r="10.3"/><circle cx="295.6" cy="1460.0" r="10.3"/><circle cx="299.2" cy="1472.3" r="10.3"/><circle cx="303.4" cy="1458.7" r="10.3"/><circle cx="307.6" cy="1448.7" r="10.3"/><circle cx="311.8" cy="1451.5" r="10.3"/><circle cx="316.1" cy="1453.9" r="10.3"/><circle cx="320.4" cy="1462.2" r="10.3"/></g><line x1="323.9" y1="1468.3" x2="1917.0" y2="1468.3" stroke="#ff0000" stroke-width="20.6" stroke-linecap="round"/>
<g font-family="Liberation Sans, Arial, Helvetica, sans-serif" font-size="51" fill="#000" stroke="#000" stroke-width="0.7">
<text id="xl0" x="213.8" y="1543.6" text-anchor="middle" textLength="28.2" lengthAdjust="spacingAndGlyphs">0</text>
<text id="xl1" x="423.4" y="1543.6" text-anchor="middle" textLength="55.9" lengthAdjust="spacingAndGlyphs">50</text>
<text id="xl2" x="639.7" y="1543.6" text-anchor="middle" textLength="80.6" lengthAdjust="spacingAndGlyphs">100</text>
<text id="xl3" x="850.4" y="1543.6" text-anchor="middle" textLength="81.1" lengthAdjust="spacingAndGlyphs">150</text>
<text id="xl4" x="1065.0" y="1543.6" text-anchor="middle" textLength="83.2" lengthAdjust="spacingAndGlyphs">200</text>
<text id="xl5" x="1276.9" y="1543.6" text-anchor="middle" textLength="83.2" lengthAdjust="spacingAndGlyphs">250</text>
<text id="xl6" x="1490.3" y="1543.6" text-anchor="middle" textLength="82.2" lengthAdjust="spacingAndGlyphs">300</text>
<text id="xl7" x="1701.8" y="1543.6" text-anchor="middle" textLength="83.4" lengthAdjust="spacingAndGlyphs">350</text>
<text id="xl8" x="1918.4" y="1543.6" text-anchor="middle" textLength="82.0" lengthAdjust="spacingAndGlyphs">400</text>
<text id="yl0" x="197.39999999999998" y="155.2" text-anchor="end" textLength="72.0" lengthAdjust="spacingAndGlyphs">0.9</text>
<text id="yl1" x="197.39999999999998" y="320.7" text-anchor="end" textLength="72.0" lengthAdjust="spacingAndGlyphs">0.8</text>
<text id="yl2" x="197.39999999999998" y="489.6" text-anchor="end" textLength="72.0" lengthAdjust="spacingAndGlyphs">0.7</text>
<text id="yl3" x="197.39999999999998" y="659.1" text-anchor="end" textLength="72.0" lengthAdjust="spacingAndGlyphs">0.6</text>
<text id="yl4" x="197.39999999999998" y="828.4" text-anchor="end" textLength="72.0" lengthAdjust="spacingAndGlyphs">0.5</text>
<text id="yl5" x="197.39999999999998" y="993.5" text-anchor="end" textLength="72.0" lengthAdjust="spacingAndGlyphs">0.4</text>
<text id="yl6" x="197.39999999999998" y="1163.2" text-anchor="end" textLength="72.0" lengthAdjust="spacingAndGlyphs">0.3</text>
<text id="yl7" x="197.39999999999998" y="1332.1" text-anchor="end" textLength="72.0" lengthAdjust="spacingAndGlyphs">0.2</text>
<text id="yl8" x="197.39999999999998" y="1501.2" text-anchor="end" textLength="72.0" lengthAdjust="spacingAndGlyphs">0.1</text>
<text id="title" y="95.5" xml:space="preserve"><tspan x="891.0" textLength="93.15910560054995" lengthAdjust="spacingAndGlyphs">loss</tspan><tspan x="984.15910560055"> </tspan><tspan x="1001.0" textLength="68.2113142015316" lengthAdjust="spacingAndGlyphs">VS</tspan><tspan x="1069.2113142015316"> </tspan><tspan x="1086.6000000000004" textLength="138.62774412453828" lengthAdjust="spacingAndGlyphs">epoch</tspan></text>
<text id="xlabel" x="1057.7" y="1610.6" text-anchor="middle">epoch</text>
<text id="ylabel" transform="translate(83.3,865.4000000000001) rotate(-90)" textLength="92.52206789178828" lengthAdjust="spacingAndGlyphs">loss</text>
</g>
<g shape-rendering="crispEdges">
<rect x="1307" y="168" width="585" height="677" fill="#fff" stroke="#000" stroke-width="2"/>
<rect x="1338" y="210" width="158" height="2" fill="#0000ff"/>
<rect x="1338" y="285" width="158" height="1" fill="#00ffff"/>
<rect x="1338" y="356" width="158" height="1" fill="#ff0000"/>
<rect x="1338" y="431" width="158" height="1" fill="#000000"/>
<rect x="1338" y="505" width="158" height="2" fill="#00ff00"/>
<rect x="1338" y="576" width="158" height="2" fill="#ff00ff"/>
<rect x="1338" y="651" width="158" height="1" fill="#0000ff"/>
<rect x="1338" y="722" width="158" height="2" fill="#00ffff"/>
<rect x="1338" y="797" width="158" height="1" fill="#ff0000"/>
</g>
<g font-family="Liberation Sans, Arial, Helvetica, sans-serif" font-size="51" fill="#000" stroke="#000" stroke-width="0.7">
<text id="lg0" x="1512.6" y="229.5" textLength="106.7" lengthAdjust="spacingAndGlyphs">CNN</text>
<text id="lg1" x="1512.0" y="300.5" textLength="138.9" lengthAdjust="spacingAndGlyphs">FCNN</text>
<text id="lg2" x="1512.0" y="375.5" textLength="151.0" lengthAdjust="spacingAndGlyphs">IFCNN</text>
<text id="lg3" x="1512.0" y="449.5" textLength="316.1" lengthAdjust="spacingAndGlyphs">Pre-train CNN</text>
<text id="lg4" x="1511.0" y="524.7" textLength="347.9" lengthAdjust="spacingAndGlyphs">Pre-train FCNN</text>
<text id="lg5" x="1511.0" y="595.3" textLength="360.4" lengthAdjust="spacingAndGlyphs">Pre-train IFCNN</text>
<circle cx="1419.2" cy="654.2" r="10.3" fill="#0000ff" stroke="none"/>
<text id="lg6" x="1512.4" y="670.8" textLength="268.1" lengthAdjust="spacingAndGlyphs">ADMF-CNN</text>
<circle cx="1419.2" cy="724.5" r="10.3" fill="#00ffff" stroke="none"/>
<text id="lg7" x="1512.4" y="744.3" textLength="300.3" lengthAdjust="spacingAndGlyphs">ADMF-FCNN</text>
<circle cx="1419.2" cy="799.4" r="10.3" fill="#ff0000" stroke="none"/>
<text id="lg8" x="1512.4" y="815.4" textLength="311.8" lengthAdjust="spacingAndGlyphs">ADMF-IFCNN</text>
</g>
</svg></body></html>
